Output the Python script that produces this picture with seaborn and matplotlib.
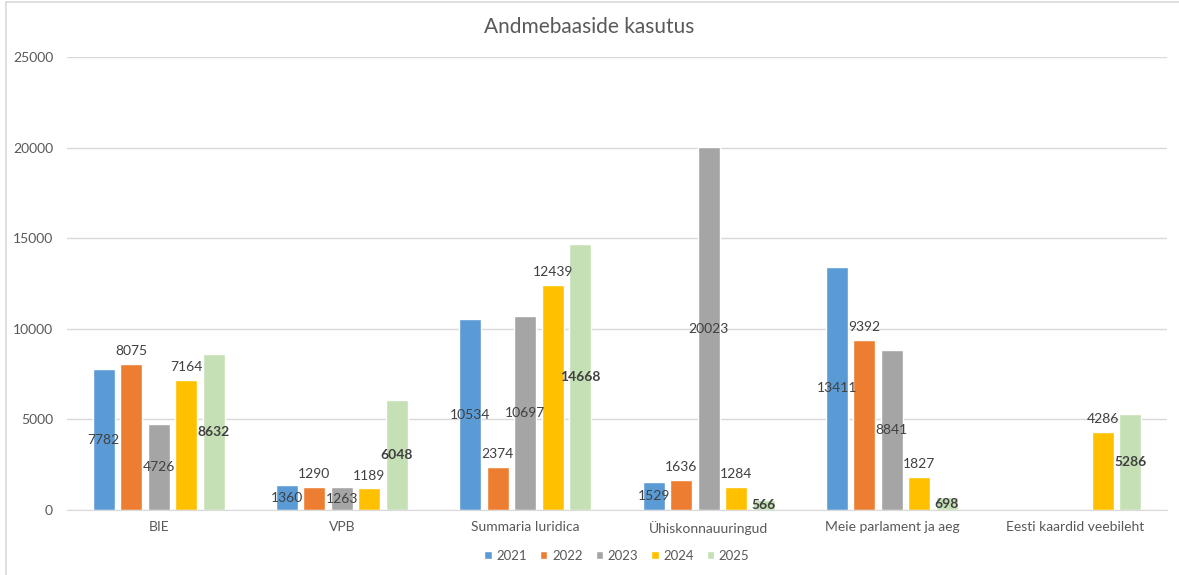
import numpy as np
import pandas as pd
import matplotlib
matplotlib.use("Agg")
import matplotlib.pyplot as plt
import seaborn as sns
from matplotlib.lines import Line2D

# --- data ---
categories = ["BIE", "VPB", "Summaria Iuridica", "Ühiskonnauuringud",
              "Meie parlament ja aeg", "Eesti kaardid veebileht"]
years = ["2021", "2022", "2023", "2024", "2025"]
v2021 = [7782, 1360, 10534, 1529, 13411, np.nan]
v2022 = [8075, 1290, 2374, 1636, 9392, np.nan]
v2023 = [4726, 1263, 10697, 20023, 8841, np.nan]
v2024 = [7164, 1189, 12439, 1284, 1827, 4286]
v2025 = [8632, 6048, 14668, 566, 698, 5286]
colors = ["#5B9BD5", "#ED7D31", "#A5A5A5", "#FFC000", "#C5E0B4"]

rows = []
for year, vals in zip(years, [v2021, v2022, v2023, v2024, v2025]):
    for cat, v in zip(categories, vals):
        rows.append({"andmebaas": cat, "aasta": year, "kasutus": v})
df = pd.DataFrame(rows)

sns.set_style("white")
plt.rcParams["font.family"] = ["Lato", "DejaVu Sans"]

fig = plt.figure(figsize=(11.79, 5.75), dpi=100)
ax = fig.add_axes([0.0568, 0.113, 0.933, 0.788])

sns.barplot(data=df, x="andmebaas", y="kasutus", hue="aasta",
            order=categories, hue_order=years, palette=colors,
            width=0.75, gap=0.2, saturation=1, ax=ax, errorbar=None)

# Excel-style labels: some centred, some above the bar
label_pos = ["center", "edge", "center", "edge", "center"]
for cont, pos, year in zip(ax.containers, label_pos, years):
    bold = year == "2025"
    ax.bar_label(cont, fmt="{:.0f}", label_type=pos, padding=5 if pos == "edge" else 0,
                 fontsize=10, color="#404040", fontweight="bold" if bold else "normal")

ax.set_ylim(0, 25000)
ax.set_yticks(range(0, 25001, 5000))
ax.yaxis.grid(True, color="#D9D9D9", linewidth=1)
ax.set_axisbelow(True)
for s in ["top", "right", "left"]:
    ax.spines[s].set_visible(False)
ax.spines["bottom"].set_color("#D9D9D9")
ax.tick_params(axis="both", length=0, labelsize=10, labelcolor="#595959")
ax.tick_params(axis="y", pad=10)
ax.tick_params(axis="x", pad=8)
ax.set_xlabel("")
ax.set_ylabel("")

fig.suptitle("Andmebaaside kasutus", y=0.97, fontsize=15, color="#595959")

sns.move_legend(ax, "upper center", bbox_to_anchor=(0.5, -0.062), ncol=5,
                frameon=False, title=None, fontsize=9.5, handlelength=0.55,
                handleheight=0.55, columnspacing=1.0, handletextpad=0.35)
for t in ax.get_legend().get_texts():
    t.set_color("#595959")

# chart border (left and top visible in the screenshot)
fig.add_artist(Line2D([6 / 1179, 6 / 1179], [0, 1 - 2 / 575], color="#D9D9D9", lw=1.2))
fig.add_artist(Line2D([6 / 1179, 1], [1 - 2 / 575, 1 - 2 / 575], color="#D9D9D9", lw=1.2))

fig.savefig("out.png", dpi=100, facecolor="white")
